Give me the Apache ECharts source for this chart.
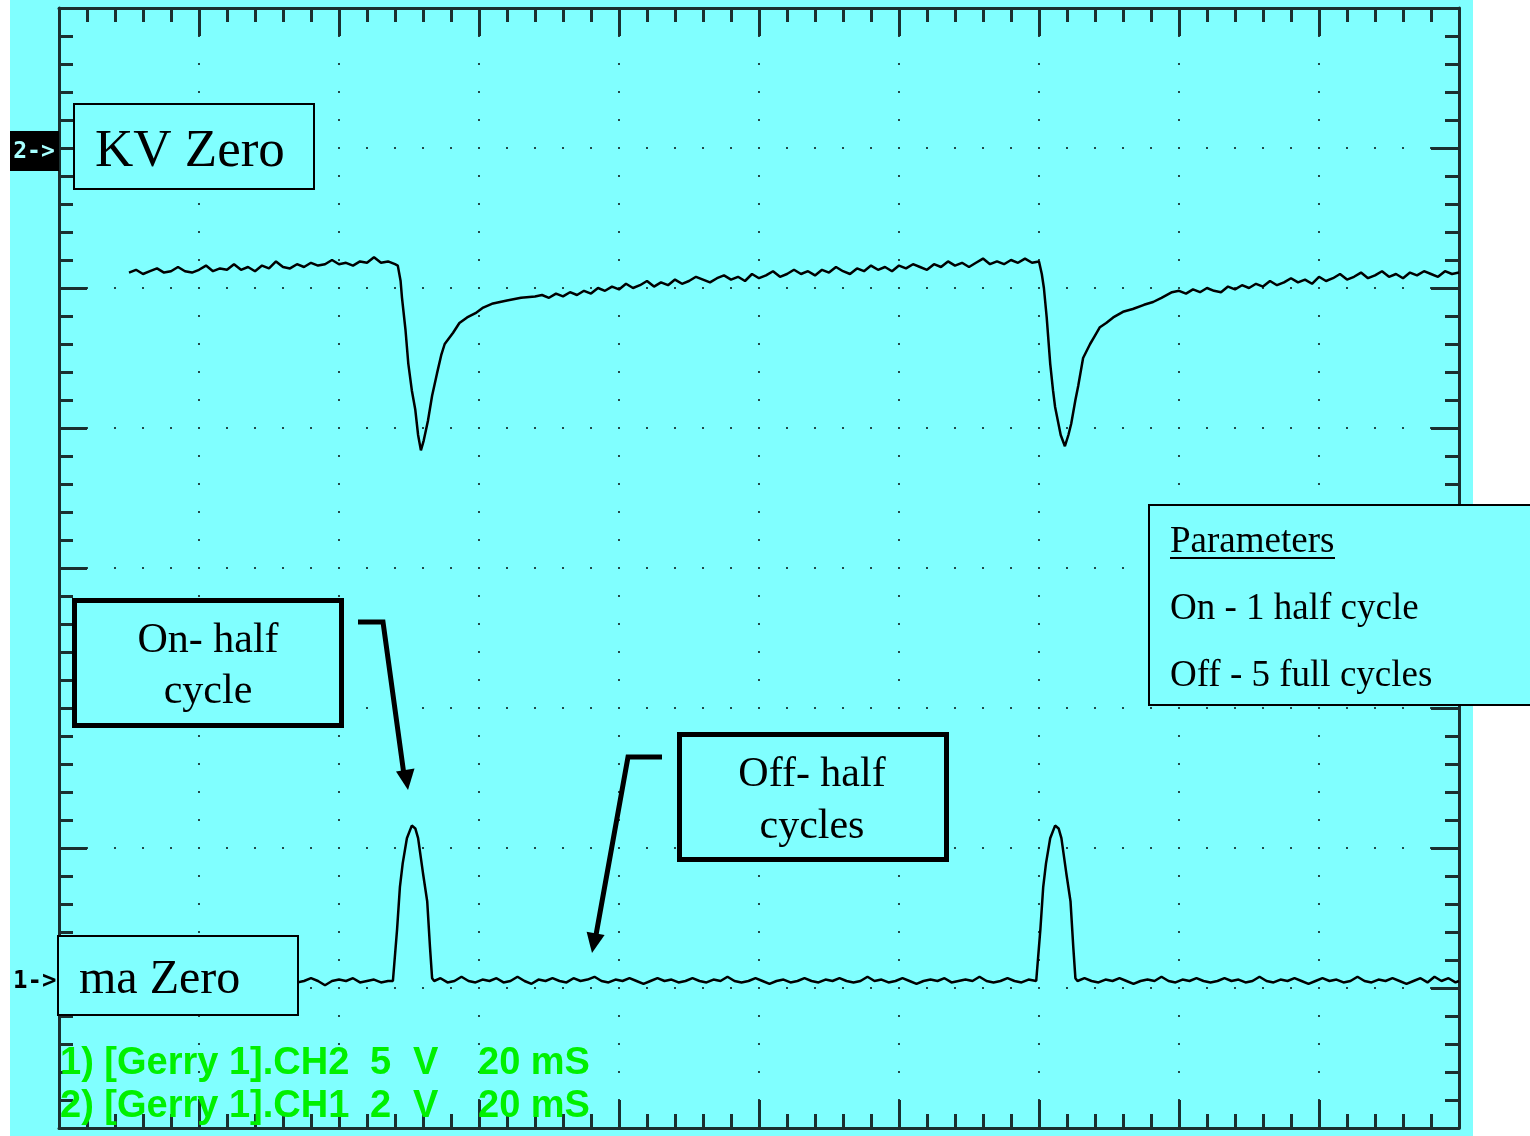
<!DOCTYPE html>
<html>
<head>
<meta charset="utf-8">
<script src="https://cdn.jsdelivr.net/npm/echarts@6/dist/echarts.min.js"></script>
<style>
  html, body { margin: 0; padding: 0; background: #ffffff; }
  #chart { width: 1530px; height: 1136px; }
</style>
</head>
<body>
<div id="chart"></div>
<script>
// Time axis in ms (20 mS / div, 10 divisions); vertical axis in screen divisions (8 divisions)
const timeRange = [0, 200];
const divRange = [-4, 4];

// Channel 2 trace ("KV Zero")
const kvTrace = [
  [10,2.11],[11,2.13],[12,2.10],[13,2.12],[14,2.14],[15,2.11],[16,2.12],[17,2.15],[18,2.12],[19,2.11],
  [20,2.13],[21,2.16],[22,2.12],[23,2.14],[24,2.13],[25,2.17],[26,2.13],[27,2.15],[28,2.12],[29,2.16],
  [30,2.14],[31,2.19],[32,2.15],[33,2.14],[34,2.17],[35,2.15],[36,2.18],[37,2.16],[38,2.17],[39,2.20],
  [40,2.17],[41,2.18],[42,2.16],[43,2.19],[44,2.18],[45,2.22],[46,2.18],[47,2.19],[48,2.17],
  [48.4,2.16],[48.8,2.05],[49.0,1.93],[49.5,1.70],[49.9,1.46],[50.4,1.27],[50.9,1.13],[51.3,0.95],[51.7,0.84],
  [52.1,0.91],[52.7,1.05],[53.3,1.23],[54.0,1.39],[54.6,1.52],[55.1,1.60],[56.3,1.68],[57.2,1.75],[58.3,1.79],
  [59.5,1.82],[60.6,1.86],[62,1.89],[64,1.91],[66,1.93],[68,1.94],
  [69,1.95],[70,1.93],[71,1.96],[72,1.94],[73,1.97],[74,1.95],[75,1.98],[76,1.96],[77,2.00],[78,1.98],
  [79,2.01],[80,1.99],[81,2.03],[82,2.00],[83,2.02],[84,2.05],[85,2.01],[86,2.04],[87,2.02],[88,2.06],
  [89,2.03],[90,2.05],[91,2.08],[92,2.06],[93,2.04],[94,2.07],[95,2.09],[96,2.06],[97,2.08],[98,2.05],
  [99,2.10],[100,2.07],[101,2.09],[102,2.12],[103,2.08],[104,2.10],[105,2.13],[106,2.10],[107,2.12],[108,2.09],
  [109,2.13],[110,2.11],[111,2.15],[112,2.12],[113,2.10],[114,2.14],[115,2.12],[116,2.16],[117,2.13],[118,2.15],
  [119,2.12],[120,2.16],[121,2.14],[122,2.17],[123,2.15],[124,2.13],[125,2.17],[126,2.15],[127,2.19],[128,2.16],
  [129,2.18],[130,2.15],[131,2.18],[132,2.21],[133,2.17],[134,2.19],[135,2.17],[136,2.20],[137,2.18],[138,2.21],
  [139,2.18],[140,2.19],
  [140.4,2.10],[140.7,2.00],[141.1,1.79],[141.6,1.46],[142.0,1.27],[142.3,1.15],[142.7,1.05],[143.1,0.95],[143.7,0.87],
  [144.2,0.95],[144.6,1.03],[145.2,1.20],[145.6,1.30],[146.3,1.50],[147.3,1.60],[148.0,1.66],[148.7,1.72],
  [149.6,1.75],[150.6,1.79],[152,1.83],[153.4,1.85],[155,1.88],[156.3,1.90],[157.5,1.93],[159,1.97],
  [160,1.98],[161,1.96],[162,1.99],[163,1.97],[164,2.00],[165,1.98],[166,1.97],[167,2.01],[168,1.99],[169,2.02],
  [170,2.00],[171,2.03],[172,2.01],[173,2.05],[174,2.02],[175,2.04],[176,2.07],[177,2.04],[178,2.06],[179,2.03],
  [180,2.08],[181,2.05],[182,2.07],[183,2.10],[184,2.06],[185,2.08],[186,2.11],[187,2.07],[188,2.09],[189,2.12],
  [190,2.08],[191,2.10],[192,2.07],[193,2.11],[194,2.09],[195,2.12],[196,2.10],[197,2.08],[198,2.12],[199,2.10],
  [200,2.11]
];

// Channel 1 trace ("ma Zero")
const maTrace = [
  [10,-2.95],[11,-2.93],[12,-2.96],[13,-2.95],[14,-2.97],[15,-2.94],[16,-2.95],[17,-2.92],[18,-2.95],[19,-2.96],
  [20,-2.94],[21,-2.95],[22,-2.97],[23,-2.95],[24,-2.93],[25,-2.95],[26,-2.96],[27,-2.94],[28,-2.95],[29,-2.92],
  [30,-2.95],[31,-2.97],[32,-2.95],[33,-2.94],[34,-2.96],[35,-2.95],[36,-2.93],[37,-2.95],[38,-2.98],[39,-2.95],
  [40,-2.94],[41,-2.95],[42,-2.93],[43,-2.96],[44,-2.95],[45,-2.94],[46,-2.96],[47,-2.95],[47.7,-2.95],
  [48.3,-2.58],[48.7,-2.28],[49.1,-2.11],[49.7,-1.93],[50.4,-1.84],[50.9,-1.86],[51.3,-1.93],[52.0,-2.18],
  [52.6,-2.38],[53.0,-2.71],[53.3,-2.93],[53.6,-2.95],
  [54.5,-2.93],[55.5,-2.96],[56.5,-2.95],[57.5,-2.92],[58.5,-2.95],[59.5,-2.96],[60.5,-2.94],[61.5,-2.95],
  [62.5,-2.93],[63.5,-2.96],[64.5,-2.95],[65.5,-2.92],[66.5,-2.95],[67.5,-2.97],[68.5,-2.94],[69.5,-2.95],
  [70.5,-2.93],[71.5,-2.95],[72.5,-2.96],[73.5,-2.93],[74.5,-2.95],[75.5,-2.94],[76.5,-2.92],[77.5,-2.95],
  [78.5,-2.96],[79.5,-2.94],[80.5,-2.95],[81.5,-2.93],[82.5,-2.95],[83.5,-2.97],[84.5,-2.95],[85.5,-2.93],
  [86.5,-2.95],[87.5,-2.94],[88.5,-2.96],[89.5,-2.95],[90.5,-2.93],[91.5,-2.95],[92.5,-2.96],[93.5,-2.94],
  [94.5,-2.95],[95.5,-2.92],[96.5,-2.95],[97.5,-2.96],[98.5,-2.95],[99.5,-2.93],[100.5,-2.95],[101.5,-2.97],
  [102.5,-2.95],[103.5,-2.94],[104.5,-2.96],[105.5,-2.95],[106.5,-2.93],[107.5,-2.95],[108.5,-2.96],[109.5,-2.94],
  [110.5,-2.95],[111.5,-2.93],[112.5,-2.95],[113.5,-2.96],[114.5,-2.95],[115.5,-2.92],[116.5,-2.95],[117.5,-2.94],
  [118.5,-2.96],[119.5,-2.95],[120.5,-2.93],[121.5,-2.95],[122.5,-2.97],[123.5,-2.95],[124.5,-2.94],[125.5,-2.95],
  [126.5,-2.93],[127.5,-2.96],[128.5,-2.95],[129.5,-2.94],[130.5,-2.95],[131.5,-2.92],[132.5,-2.95],[133.5,-2.96],
  [134.5,-2.95],[135.5,-2.93],[136.5,-2.95],[137.5,-2.96],[138.5,-2.94],[139.6,-2.95],
  [140.2,-2.58],[140.6,-2.28],[141.0,-2.11],[141.6,-1.93],[142.3,-1.84],[142.8,-1.86],[143.2,-1.93],[143.9,-2.18],
  [144.5,-2.38],[144.9,-2.71],[145.2,-2.93],[145.5,-2.95],
  [146.5,-2.93],[147.5,-2.95],[148.5,-2.96],[149.5,-2.94],[150.5,-2.95],[151.5,-2.93],[152.5,-2.95],[153.5,-2.97],
  [154.5,-2.95],[155.5,-2.94],[156.5,-2.95],[157.5,-2.92],[158.5,-2.95],[159.5,-2.96],[160.5,-2.94],[161.5,-2.95],
  [162.5,-2.93],[163.5,-2.95],[164.5,-2.96],[165.5,-2.95],[166.5,-2.93],[167.5,-2.95],[168.5,-2.94],[169.5,-2.96],
  [170.5,-2.95],[171.5,-2.92],[172.5,-2.95],[173.5,-2.96],[174.5,-2.94],[175.5,-2.95],[176.5,-2.93],[177.5,-2.95],
  [178.5,-2.97],[179.5,-2.95],[180.5,-2.93],[181.5,-2.95],[182.5,-2.94],[183.5,-2.96],[184.5,-2.95],[185.5,-2.92],
  [186.5,-2.95],[187.5,-2.96],[188.5,-2.94],[189.5,-2.95],[190.5,-2.93],[191.5,-2.95],[192.5,-2.97],[193.5,-2.95],
  [194.5,-2.93],[195.5,-2.96],[196.5,-2.92],[197.5,-2.95],[198.5,-2.93],[199.5,-2.96],[200,-2.95]
];

// Text content
const labelKV = 'KV Zero';
const labelMA = 'ma Zero';
const onLines = ['On- half', 'cycle'];
const offLines = ['Off- half', 'cycles'];
const paramTitle = 'Parameters';
const paramLines = ['On - 1 half cycle', 'Off - 5 full cycles'];
const statusLine1 = ['1) [Gerry 1].CH2', '5', 'V', '20 mS'];
const statusLine2 = ['2) [Gerry 1].CH1', '2', 'V', '20 mS'];
const markerCh2 = '2->';
const markerCh1 = '1->';

const frameColor = '#1b3030';
const dotColor = '#244848';
const cyan = '#80ffff';
const green = '#00f000';
const serif = '"Liberation Serif", "Times New Roman", serif';

function axisBase(pos, isX, showSplit) {
  return {
    type: 'value',
    position: pos,
    min: isX ? timeRange[0] : divRange[0],
    max: isX ? timeRange[1] : divRange[1],
    interval: isX ? 20 : 1,
    axisLine: { show: true, onZero: false, lineStyle: { color: frameColor, width: 3 } },
    axisTick: { show: true, inside: true, length: 28, lineStyle: { color: frameColor, width: 3 } },
    minorTick: { show: true, splitNumber: 5, length: 14, lineStyle: { color: frameColor, width: 3 } },
    axisLabel: { show: false },
    splitLine: { show: showSplit, lineStyle: { color: dotColor, width: 2, type: [2, 26], dashOffset: 1 } },
    minorSplitLine: { show: false }
  };
}

function txt(x, y, text, font, fill, align, extra) {
  return Object.assign({
    type: 'text', x: x, y: y, z: 120,
    style: { text: text, font: font, fill: fill, textAlign: align || 'left', textVerticalAlign: 'middle' }
  }, extra || {});
}

const statusFont = 'bold 38px "Liberation Sans", Arial, sans-serif';
const statusX = [60, 370, 413, 478];

const graphics = [
  // instrument background
  { type: 'rect', z: -10, shape: { x: 10, y: 0, width: 1463, height: 1136 }, style: { fill: cyan } },
  // channel 2 marker
  { type: 'rect', z: 110, shape: { x: 10, y: 131, width: 49, height: 40 }, style: { fill: '#000000' } },
  txt(34, 152, markerCh2, 'bold 23px "DejaVu Sans Mono", monospace', '#a8ffff', 'center'),
  // channel 1 marker
  txt(13, 982, markerCh1, 'bold 24px "DejaVu Sans Mono", monospace', '#000000', 'left'),
  // KV Zero box
  { type: 'rect', z: 110, shape: { x: 74, y: 104, width: 240, height: 85 }, style: { fill: cyan, stroke: '#000', lineWidth: 2 } },
  txt(95, 152, labelKV, '53px ' + serif, '#000'),
  // On- half cycle box
  { type: 'rect', z: 110, shape: { x: 74.5, y: 600.5, width: 267, height: 125 }, style: { fill: cyan, stroke: '#000', lineWidth: 5 } },
  txt(208, 641, onLines[0], '42px ' + serif, '#000', 'center'),
  txt(208, 692, onLines[1], '42px ' + serif, '#000', 'center'),
  // Off- half cycles box
  { type: 'rect', z: 110, shape: { x: 679.5, y: 734.5, width: 267, height: 125 }, style: { fill: cyan, stroke: '#000', lineWidth: 5 } },
  txt(812, 775, offLines[0], '42px ' + serif, '#000', 'center'),
  txt(812, 827, offLines[1], '42px ' + serif, '#000', 'center'),
  // ma Zero box
  { type: 'rect', z: 110, shape: { x: 58, y: 936, width: 240, height: 79 }, style: { fill: cyan, stroke: '#000', lineWidth: 2 } },
  txt(79, 980, labelMA, '48px ' + serif, '#000'),
  // Parameters box
  { type: 'rect', z: 110, shape: { x: 1149, y: 505, width: 420, height: 200 }, style: { fill: cyan, stroke: '#000', lineWidth: 2 } },
  txt(1170, 542, paramTitle, '37px ' + serif, '#000'),
  { type: 'line', z: 120, shape: { x1: 1170, y1: 558, x2: 1335, y2: 558 }, style: { stroke: '#000', lineWidth: 2 } },
  txt(1170, 609, paramLines[0], '37px ' + serif, '#000'),
  txt(1170, 676, paramLines[1], '37px ' + serif, '#000'),
  // arrow 1
  { type: 'polyline', z: 115, shape: { points: [[358, 622], [383, 622], [404, 775]] }, style: { stroke: '#000', lineWidth: 5, fill: null } },
  { type: 'polygon', z: 115, shape: { points: [[408, 790], [414.5, 768.5], [396.0, 771.5]] }, style: { fill: '#000' } },
  // arrow 2
  { type: 'polyline', z: 115, shape: { points: [[662, 757], [628, 757], [596, 935]] }, style: { stroke: '#000', lineWidth: 5, fill: null } },
  { type: 'polygon', z: 115, shape: { points: [[592, 953], [604.6, 934.9], [586.6, 931.7]] }, style: { fill: '#000' } }
];

statusLine1.forEach((s, i) => graphics.push(txt(statusX[i], 1064, s, statusFont, green)));
statusLine2.forEach((s, i) => graphics.push(txt(statusX[i], 1107, s, statusFont, green)));

const chart = echarts.init(document.getElementById('chart'), null, { renderer: 'canvas' });
chart.setOption({
  animation: false,
  backgroundColor: '#ffffff',
  grid: { left: 59, top: 8, width: 1400, height: 1120, containLabel: false },
  xAxis: [axisBase('bottom', true, true), axisBase('top', true, false)],
  yAxis: [axisBase('left', false, true), axisBase('right', false, false)],
  series: [
    {
      name: 'CH2', type: 'line', data: kvTrace, xAxisIndex: 0, yAxisIndex: 0,
      showSymbol: false, symbol: 'none', silent: true, z: 5,
      lineStyle: { color: '#000000', width: 2.5 }
    },
    {
      name: 'CH1', type: 'line', data: maTrace, xAxisIndex: 0, yAxisIndex: 0,
      showSymbol: false, symbol: 'none', silent: true, z: 5,
      lineStyle: { color: '#000000', width: 2.5 }
    }
  ],
  graphic: { elements: graphics }
});
</script>
</body>
</html>
